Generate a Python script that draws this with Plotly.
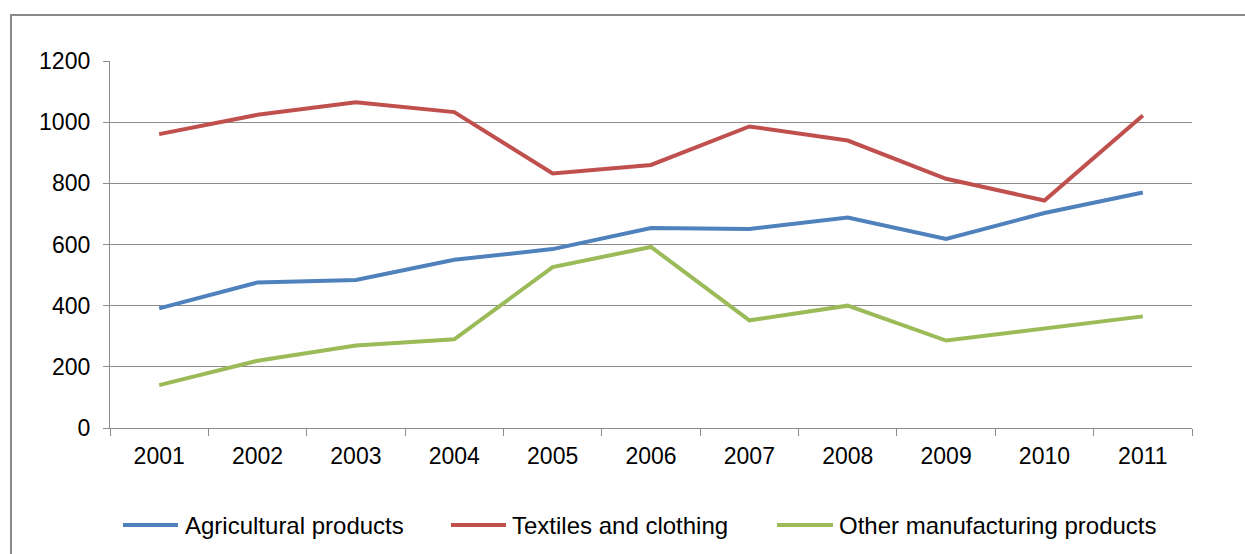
import plotly.graph_objects as go

years = ["2001", "2002", "2003", "2004", "2005", "2006", "2007", "2008", "2009", "2010", "2011"]
agricultural = [391, 476, 484, 550, 585, 654, 651, 688, 618, 703, 770]
textiles = [961, 1024, 1065, 1033, 832, 860, 986, 940, 815, 744, 1022]
other_manuf = [140, 220, 270, 290, 526, 592, 352, 400, 286, 324, 365]

series_names = ["Agricultural products", "Textiles and clothing", "Other manufacturing products"]
series_values = [agricultural, textiles, other_manuf]
series_colors = ["#4F81BD", "#C0504D", "#9BBB59"]

W, H = 1245, 554
L, R, T, B = 110, 1192, 61, 428

def px2x(px):
    return (px - L) / (R - L)

def px2y(py):
    return (B - py) / (B - T)

fig = go.Figure()
for name, vals, col in zip(series_names, series_values, series_colors):
    fig.add_trace(go.Scatter(x=years, y=vals, mode="lines", name=name,
                             line=dict(color=col, width=4), showlegend=False))

grid = "#8C8C8C"
font_family = "Liberation Sans, Arial, sans-serif"

fig.update_layout(
    width=W, height=H,
    margin=dict(l=L, r=W - R, t=T, b=H - B, pad=0),
    paper_bgcolor="white", plot_bgcolor="white",
    font=dict(family=font_family, size=23, color="#000000"),
    xaxis=dict(type="category", range=[-0.5, 10.5], showgrid=False,
               showline=True, linecolor=grid, linewidth=1.3,
               ticks="outside", tickson="boundaries", ticklen=7,
               tickcolor=grid, tickwidth=1.3, tickfont=dict(size=23),
               ticklabelstandoff=7),
    yaxis=dict(range=[0, 1200], dtick=200, showgrid=True, gridcolor=grid,
               gridwidth=1.3, showline=True, linecolor=grid, linewidth=1.3,
               ticks="outside", ticklen=6, tickcolor=grid, tickwidth=1.3,
               tickfont=dict(size=23), ticklabelstandoff=8, zeroline=False),
)

shapes = [dict(type="rect", xref="paper", yref="paper",
               x0=px2x(11), x1=px2x(1260), y0=px2y(570), y1=px2y(15),
               line=dict(color="#898989", width=2), fillcolor="rgba(0,0,0,0)",
               layer="below")]
annotations = []
legend_items = [(123, 178, 183), (451, 506, 510), (777, 833, 837)]
ly = 525
for (sx0, sx1, tx), name, col in zip(legend_items, series_names, series_colors):
    shapes.append(dict(type="line", xref="paper", yref="paper",
                       x0=px2x(sx0), x1=px2x(sx1), y0=px2y(ly), y1=px2y(ly),
                       line=dict(color=col, width=4)))
    annotations.append(dict(xref="paper", yref="paper", x=px2x(tx), y=px2y(ly),
                            text=name, showarrow=False, xanchor="left",
                            yanchor="middle", font=dict(size=24, color="#000000")))
fig.update_layout(shapes=shapes, annotations=annotations)

fig.write_html("out.html")
